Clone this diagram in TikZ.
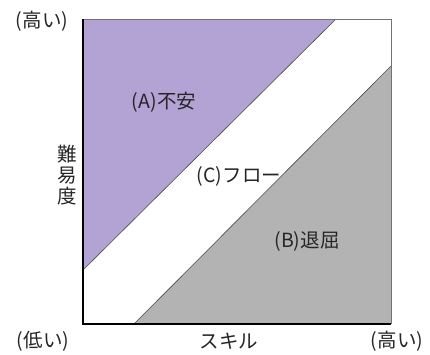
\documentclass[tikz,border=0pt]{standalone}
\usepackage{fontspec}
\setmainfont{Noto Sans CJK JP}
\definecolor{anxcol}{HTML}{B3A2D4}
\definecolor{borecol}{HTML}{B3B3B3}
\begin{document}
\begin{tikzpicture}[x=1pt,y=-1pt,
  lbl/.style={inner sep=0pt, text=black!85, font=\fontsize{19.5}{21}\selectfont},
  diagline/.style={draw=black!70, line width=0.6pt},
  frameline/.style={draw=black!55, line width=1pt},
  axisline/.style={draw=black, line width=2pt}]
\useasboundingbox (0,0) rectangle (430,354);
\fill[white] (0,0) rectangle (430,354);
\coordinate (TL) at (83,19);
\coordinate (TR) at (391,19);
\coordinate (BR) at (391,324);
\coordinate (BL) at (83,324);
\coordinate (A1) at (336,19);
\coordinate (A2) at (83,270);
\coordinate (B1) at (391,66);
\coordinate (B2) at (134,324);
\fill[anxcol] (TL) -- (A1) -- (A2) -- cycle;
\node[lbl] (flow) at (239,176) {(C)フロー};
\fill[borecol] (B1) -- (BR) -- (B2) -- cycle;
\draw[diagline] (A1) -- (A2);
\draw[diagline] (B1) -- (B2);
\draw[frameline] (TL) -- (TR) -- (BR);
\draw[axisline] (TL) -- (BL) -- (BR);
\node[lbl] (anx) at (164,102) {(A)不安};
\node[lbl] (bore) at (307,241) {(B)退屈};
\node[lbl, align=center] (ylab) at (67,175) {難\\易\\度};
\node[lbl] (yhigh) at (42,21) {(高い)};
\node[lbl] (xlow) at (43,341) {(低い)};
\node[lbl] (xlab) at (229,341) {スキル};
\node[lbl] (xhigh) at (397,341) {(高い)};
\end{tikzpicture}
\end{document}
